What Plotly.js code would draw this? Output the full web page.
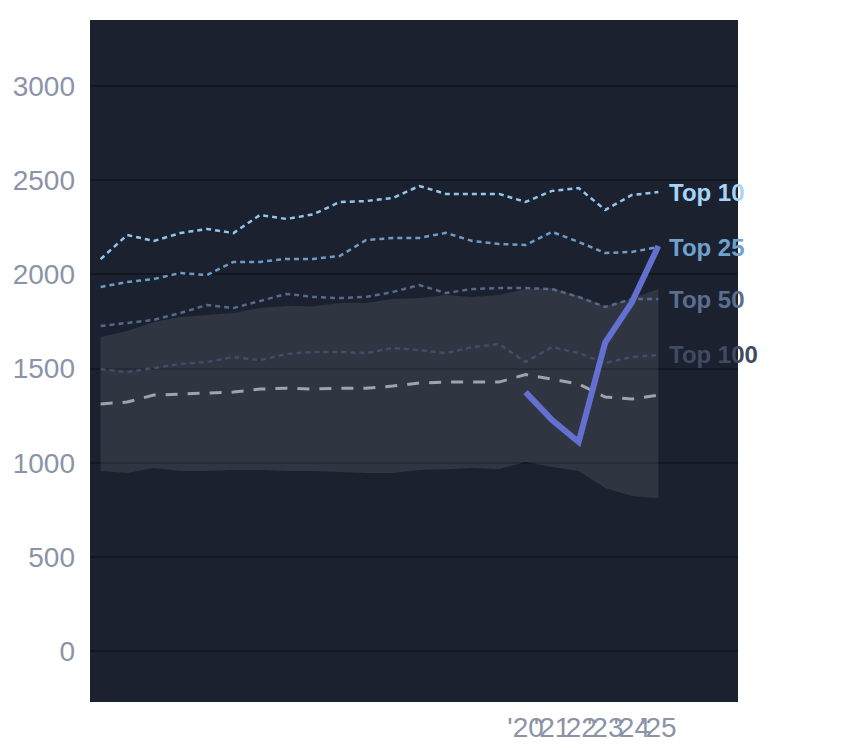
<!DOCTYPE html>
<html>
<head>
<meta charset="utf-8">
<script src="https://cdn.plot.ly/plotly-3.0.1.min.js"></script>
<style>
  html, body {margin:0; padding:0; background:#fff;}
  #chart {width:844px; height:748px;}
</style>
</head>
<body>
<div id="chart"></div>
<script>
const years = [2004, 2005, 2006, 2007, 2008, 2009, 2010, 2011, 2012, 2013, 2014,
               2015, 2016, 2017, 2018, 2019, 2020, 2021, 2022, 2023, 2024, 2025];

const bandLow  = [956, 945, 972, 956, 956, 961, 961, 956, 956, 951, 945,
                  945, 961, 966, 972, 966, 1004, 977, 956, 866, 823, 812];
const bandHigh = [1667, 1699, 1747, 1773, 1784, 1795, 1821, 1832, 1830, 1848, 1848,
                  1869, 1874, 1890, 1880, 1890, 1922, 1927, 1885, 1830, 1872, 1922];

const top10  = [2081, 2209, 2177, 2219, 2241, 2219, 2315, 2294, 2318, 2384, 2389,
                2405, 2469, 2427, 2427, 2427, 2384, 2443, 2458, 2342, 2421, 2437];
const top25  = [1933, 1959, 1975, 2007, 1996, 2066, 2066, 2082, 2082, 2097, 2182,
                2193, 2193, 2220, 2177, 2161, 2156, 2225, 2172, 2113, 2119, 2145];
const top50  = [1726, 1742, 1758, 1795, 1837, 1821, 1858, 1896, 1880, 1874, 1880,
                1906, 1943, 1901, 1922, 1927, 1927, 1922, 1880, 1827, 1869, 1869];
const top100 = [1497, 1481, 1503, 1524, 1535, 1561, 1545, 1577, 1588, 1588, 1582,
                1609, 1598, 1582, 1614, 1630, 1535, 1614, 1582, 1529, 1561, 1572];
const median = [1312, 1322, 1359, 1365, 1370, 1375, 1391, 1396, 1391, 1396, 1396,
                1407, 1423, 1428, 1428, 1428, 1468, 1444, 1418, 1349, 1338, 1359];

const recentYears = [2020, 2021, 2022, 2023, 2024, 2025];
const recent = [1375, 1227, 1110, 1638, 1850, 2150];

const tickYears = [2020, 2021, 2022, 2023, 2024, 2025];
const tickLabels = ["'20", "'21", "'22", "'23", "'24", "'25"];

const topNames  = ["Top 10", "Top 25", "Top 50", "Top 100"];
const topSeries = [top10, top25, top50, top100];
const topColors = ["#93c6ec", "#6b9cc7", "#55698b", "#414c68"];
const labelColors = ["#a6d5fa", "#6fa2cd", "#5a6f8f", "#404b63"];

const traces = [
  {x: years, y: bandLow, mode: "lines", line: {width: 0}, hoverinfo: "skip", showlegend: false},
  {x: years, y: bandHigh, mode: "lines", line: {width: 0}, fill: "tonexty",
   fillcolor: "rgba(255,255,255,0.09)", hoverinfo: "skip", showlegend: false}
];

topSeries.forEach((s, i) => {
  traces.push({
    x: years, y: s, mode: "lines", name: topNames[i], showlegend: false,
    line: {color: topColors[i], width: 2.5, dash: "5px,4px"}
  });
});

traces.push({
  x: years, y: median, mode: "lines", name: "median", showlegend: false,
  line: {color: "#9ea3ae", width: 3, dash: "12px,10px"}
});

traces.push({
  x: recentYears, y: recent, mode: "lines", showlegend: false,
  line: {color: "#6470d0", width: 6}
});

const annotations = topNames.map((name, i) => ({
  x: years[years.length - 1],
  y: topSeries[i][topSeries[i].length - 1],
  xref: "x", yref: "y",
  text: "<b>" + name + "</b>",
  showarrow: false,
  xanchor: "left",
  xshift: 9,
  font: {family: "Liberation Sans, Arial, sans-serif", size: 24, color: labelColors[i]}
}));

const layout = {
  width: 844, height: 748,
  margin: {l: 90, r: 106, t: 20, b: 46},
  paper_bgcolor: "#ffffff",
  plot_bgcolor: "#1c2130",
  showlegend: false,
  font: {family: "Liberation Sans, Arial, sans-serif", color: "#8a94a6"},
  xaxis: {
    range: [2003.6, 2028.0],
    tickvals: tickYears, ticktext: tickLabels, tickangle: 0,
    showgrid: false, zeroline: false, showline: false, ticks: "",
    tickfont: {size: 28, color: "#8a94a6"},
    ticklabelstandoff: 6,
    automargin: false
  },
  yaxis: {
    range: [-270, 3350],
    tickvals: [0, 500, 1000, 1500, 2000, 2500, 3000],
    gridcolor: "#131722", gridwidth: 2, zeroline: false, showline: false, ticks: "",
    tickfont: {size: 28, color: "#8a94a6"},
    ticklabelstandoff: 14
  },
  annotations: annotations
};

Plotly.newPlot("chart", traces, layout, {displayModeBar: false, staticPlot: true});
</script>
</body>
</html>
